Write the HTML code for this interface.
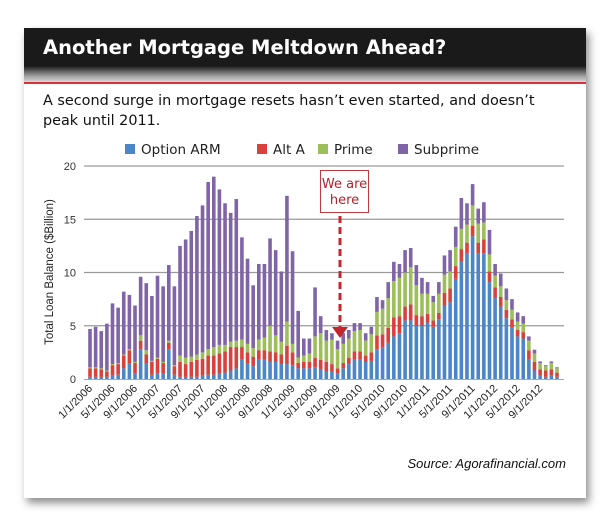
<!DOCTYPE html>
<html><head><meta charset="utf-8"><style>
body{margin:0;width:610px;height:520px;background:#fff;overflow:hidden;font-family:"Liberation Sans",sans-serif}
#card{position:absolute;left:24px;top:28px;width:562px;height:470px;background:#fff;box-shadow:3px 5px 8px rgba(0,0,0,.45)}
#hdr{position:absolute;left:0;top:0;width:562px;height:38px;background:#1a1a1a}
#grad{position:absolute;left:0;top:38px;width:562px;height:16px;background:linear-gradient(#1a1a1a,#9a9a9a 60%,#d8d8d8)}
#redl{position:absolute;left:0;top:54px;width:562px;height:2px;background:#d8323a}
#title{position:absolute;left:19px;top:8px;color:#fff;font:bold 19.5px "DejaVu Sans","Liberation Sans",sans-serif}
#sub{position:absolute;left:19px;top:63px;font:14.4px "DejaVu Sans","Liberation Sans",sans-serif;color:#111;line-height:20px;width:530px}
</style></head><body>
<div id="card">
<div id="hdr"><div id="title">Another Mortgage Meltdown Ahead?</div></div>
<div id="grad"></div>
<div id="redl"></div>
<div id="sub">A second surge in mortgage resets hasn’t even started, and doesn’t peak until 2011.</div>
</div>
<svg id="chart" width="610" height="520" style="position:absolute;left:0;top:0"></svg>
<script>
const optionArm=[0.2,0.2,0.2,0.2,0.3,0.4,1.0,1.5,0.5,2.8,1.5,0.4,0.5,0.5,2.8,0.4,0.2,0.2,0.2,0.2,0.3,0.4,0.4,0.5,0.6,0.8,1.0,1.8,1.5,1.2,1.8,1.8,1.6,1.6,1.4,1.4,1.3,1.0,1.0,1.0,1.1,0.9,0.7,
0.7,0.5,1.0,1.4,1.8,1.8,1.6,1.7,2.8,3.0,3.4,4.0,4.3,5.5,5.5,5.0,5.0,5.3,4.9,5.6,6.9,7.2,9.4,11.0,11.8,13.4,11.8,11.8,9.1,7.6,6.8,5.7,4.8,4.0,3.8,1.8,0.8,0.3,0.2,0.3,0.2];
const altA=[0.8,0.8,0.7,0.5,1.0,1.0,1.2,1.2,1.0,0.8,0.8,1.2,1.4,1.0,0.6,0.8,1.4,1.2,1.4,1.6,1.6,1.8,1.8,1.9,2.0,2.2,2.0,1.2,1.0,0.9,0.9,0.9,1.0,0.9,0.9,1.7,1.2,0.5,0.6,0.6,0.9,0.9,0.9,
0.7,0.5,0.5,0.6,0.8,0.8,0.6,0.8,1.3,1.2,1.4,1.8,1.6,1.3,1.5,1.0,0.9,0.8,0.6,0.6,1.2,1.3,1.2,1.2,1.0,1.0,1.0,1.3,1.0,1.0,0.9,0.8,0.8,0.6,0.6,0.9,0.8,0.6,0.6,0.6,0.4];
const prime=[0.1,0.1,0.1,0.1,0.1,0.1,0.1,0.1,0.1,0.5,0.4,0.1,0.1,0.1,0.2,0.1,0.6,0.6,0.5,0.5,0.6,0.6,0.8,0.8,0.6,0.5,0.6,0.7,0.8,0.8,1.0,1.2,2.4,1.6,1.2,2.3,0.8,0.5,0.6,0.8,2.0,2.5,2.0,
2.3,1.8,1.8,1.8,1.9,2.0,1.4,1.7,2.2,2.4,2.8,3.4,3.6,3.2,3.5,2.8,2.1,1.9,1.7,1.8,1.7,1.6,1.8,1.9,1.7,1.9,1.8,1.6,1.6,1.1,1.0,0.9,0.9,0.8,0.8,0.9,0.8,0.6,0.4,0.6,0.4];
const totals=[4.7,4.9,4.5,5.2,7.1,6.7,8.2,7.9,6.9,9.6,9.0,7.8,9.7,8.7,10.7,8.7,12.5,13.1,13.9,15.3,16.3,18.5,19.0,17.8,16.5,15.6,16.9,13.3,11.3,8.8,10.8,10.8,13.2,12.1,10.1,17.2,12.0,6.4,3.8,3.8,8.6,5.9,4.6,
4.3,3.6,4.3,4.6,5.25,5.25,4.3,4.9,7.7,7.4,9.1,11.0,10.8,12.1,12.3,10.7,9.5,9.1,7.8,9.1,11.6,12.1,14.3,17.0,16.5,18.3,16.0,16.6,14.0,10.8,9.9,8.5,7.5,6.25,5.9,4.0,2.75,1.65,1.3,1.65,1.1];
const yTicks=[0,5,10,15,20];
const xLabels=["1/1/2006","5/1/2006","9/1/2006","1/1/2007","5/1/2007","9/1/2007","1/1/2008","5/1/2008","9/1/2008","1/1/2009","5/1/2009","9/1/2009","1/1/2010","5/1/2010","9/1/2010","1/1/2011","5/1/2011","9/1/2011","1/1/2012","5/1/2012","9/1/2012"];
const seriesNames=["Option ARM","Alt A","Prime","Subprime"];
const subprime=totals.map((t,i)=>Math.max(0,t-optionArm[i]-altA[i]-prime[i]));
const colors=["#4a86c8","#d8423c","#9cbf5a","#8064a8"];
const NS="http://www.w3.org/2000/svg";
const svg=document.getElementById('chart');
const x0=90,x1=557,yb=379,yt=166;
const n=totals.length, step=(x1-x0)/(n-1);
const X=i=>x0+i*step;
const Y=v=>yb-(v/20)*(yb-yt);
function mk(t,a){const e=document.createElementNS(NS,t);for(const k in a)e.setAttribute(k,a[k]);svg.appendChild(e);return e;}
yTicks.forEach(v=>{
 if(v>0){const g=mk('line',{x1:84,x2:564,y1:Y(v),y2:Y(v),stroke:'#9a9a9a','stroke-width':1.3});
 
 }
 const t=mk('text',{x:76,y:Y(v)+4,'text-anchor':'end','font-size':11,fill:'#333','font-family':'Liberation Sans, sans-serif'});t.textContent=v;
 
 
});
const series=[optionArm,altA,prime,subprime];
for(let i=0;i<n;i++){
 let acc=0;
 series.forEach((s,k)=>{
  const v=s[i];if(v<=0)return;
  const r=mk('rect',{x:X(i)-1.8,y:Y(acc+v),width:3.6,height:Y(acc)-Y(acc+v),fill:colors[k]});
  
  
  acc+=v;
 });
}
const ax=mk('line',{x1:84,x2:564,y1:yb+0.5,y2:yb+0.5,stroke:'#aaa','stroke-width':1});


xLabels.forEach((l,j)=>{
 const cx=X(j*4)+3,cy=yb+10;
 const t=mk('text',{x:cx,y:cy,'text-anchor':'end','font-size':11,fill:'#222','font-family':'Liberation Sans, sans-serif',transform:`rotate(-45 ${cx} ${cy})`});
 t.textContent=l;
 
 
});
const yt2=mk('text',{x:53,y:272,'text-anchor':'middle','font-size':11.5,fill:'#222','font-family':'Liberation Sans, sans-serif',transform:'rotate(-90 53 272)'});
yt2.textContent='Total Loan Balance ($Billion)';


const legX=[125,257,318,398];
seriesNames.forEach((s,k)=>{
 const r=mk('rect',{x:legX[k],y:144,width:10,height:10,fill:colors[k]});
 
 
 const t=mk('text',{x:legX[k]+16,y:154,'font-size':13.5,fill:'#222','font-family':'DejaVu Sans, Liberation Sans, sans-serif'});
 t.textContent=s;
 
 
});
const box=mk('rect',{x:320.5,y:170.5,width:48,height:42,fill:'#fff',stroke:'#c0393f','stroke-width':1});


['We are','here'].forEach((s,k)=>{
 const t=mk('text',{x:344.5,y:188+k*16,'text-anchor':'middle','font-size':13,fill:'#b8202a','font-family':'DejaVu Sans, Liberation Sans, sans-serif'});
 t.textContent=s;
 
 
});
const dl=mk('line',{x1:340,x2:340,y1:216,y2:328,stroke:'#c4262e','stroke-width':3,'stroke-dasharray':'7,4'});


const ah=mk('polygon',{points:'332,327 348,327 340,338',fill:'#c4262e'});


const src=mk('text',{x:566,y:468,'text-anchor':'end','font-size':13,'font-style':'italic',fill:'#111','font-family':'Liberation Sans, sans-serif'});
src.textContent='Source: Agorafinancial.com';


</script>
</body></html>
